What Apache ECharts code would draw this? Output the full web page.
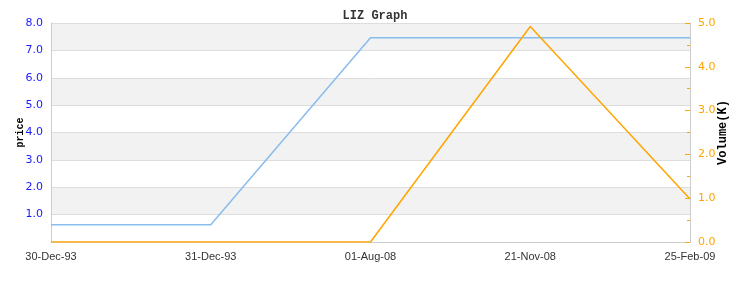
<!DOCTYPE html>
<html><head><meta charset="utf-8">
<script src="https://cdn.jsdelivr.net/npm/echarts@6/dist/echarts.min.js"></script>
<style>html,body{margin:0;padding:0;background:#fff}#c{width:750px;height:293px}</style>
</head><body><div id="c"></div>
<script>
const categories = ['30-Dec-93','31-Dec-93','01-Aug-08','21-Nov-08','25-Feb-09'];
const priceValues = [0.63, 0.63, 7.46, 7.46, 7.46];
const volumeValues = [0, 0, 0, 4.92, 0.98];
const priceTicks = {min: 0, max: 8, interval: 1};
const volumeTicks = {min: 0, max: 5, interval: 1};

const chart = echarts.init(document.getElementById('c'));
chart.setOption({
  animation: false,
  title: {text: 'LIZ Graph', left: 'center', top: 5,
    textStyle: {fontFamily: 'Liberation Mono', fontWeight: 'bold', fontSize: 12, color: '#333'}},
  grid: {left: 51, right: 60, top: 23, bottom: 51, show: false, containLabel: false, outerBoundsMode: 'none'},
  xAxis: {type: 'category', data: categories, boundaryGap: false,
    axisLine: {show: true, lineStyle: {color: '#ccc'}},
    axisTick: {show: false},
    axisLabel: {color: '#333', fontFamily: 'Liberation Sans', fontSize: 11, margin: 9, showMinLabel: true, showMaxLabel: true, interval: 0},
    splitLine: {show: false}},
  yAxis: [{
    type: 'value', min: priceTicks.min, max: priceTicks.max, interval: priceTicks.interval,
    name: 'price', nameLocation: 'middle', nameGap: 26, nameRotate: 90, nameMoveOverlap: false,
    nameTextStyle: {fontFamily: 'Liberation Mono', fontWeight: 'bold', fontSize: 10, color: '#000'},
    axisLine: {show: true, lineStyle: {color: '#ccc'}},
    axisTick: {show: false},
    axisLabel: {color: '#1a1aff', fontFamily: 'DejaVu Sans', fontSize: 11, margin: 8,
      formatter: v => v === 0 ? '' : v.toFixed(1)},
    splitLine: {show: true, lineStyle: {color: '#dddddd'}},
    splitArea: {show: true, areaStyle: {color: ['#ffffff', '#f2f2f2']}}
  }, {
    type: 'value', min: volumeTicks.min, max: volumeTicks.max, interval: volumeTicks.interval,
    position: 'right',
    name: 'Volume(K)', nameLocation: 'middle', nameGap: 27, nameRotate: 90, nameMoveOverlap: false,
    nameTextStyle: {fontFamily: 'Liberation Mono', fontWeight: 'bold', fontSize: 12, color: '#000'},
    axisLine: {show: true, lineStyle: {color: '#ccc'}},
    axisTick: {show: true, inside: true, length: 5, lineStyle: {color: '#ffa500'}},
    minorTick: {show: true, splitNumber: 2, length: 3, lineStyle: {color: '#ffa500'}},
    axisLabel: {color: '#ffa500', fontFamily: 'DejaVu Sans', fontSize: 11, margin: 8,
      formatter: v => v.toFixed(1)},
    splitLine: {show: false}
  }],
  series: [{
    name: 'price', type: 'line', yAxisIndex: 0, data: priceValues,
    showSymbol: false, lineStyle: {color: '#88bbee', width: 1.5}, itemStyle: {color: '#88bbee'}
  }, {
    name: 'volume', type: 'line', yAxisIndex: 1, data: volumeValues,
    showSymbol: false, lineStyle: {color: '#ffa500', width: 1.5}, itemStyle: {color: '#ffa500'}
  }]
});
</script></body></html>
